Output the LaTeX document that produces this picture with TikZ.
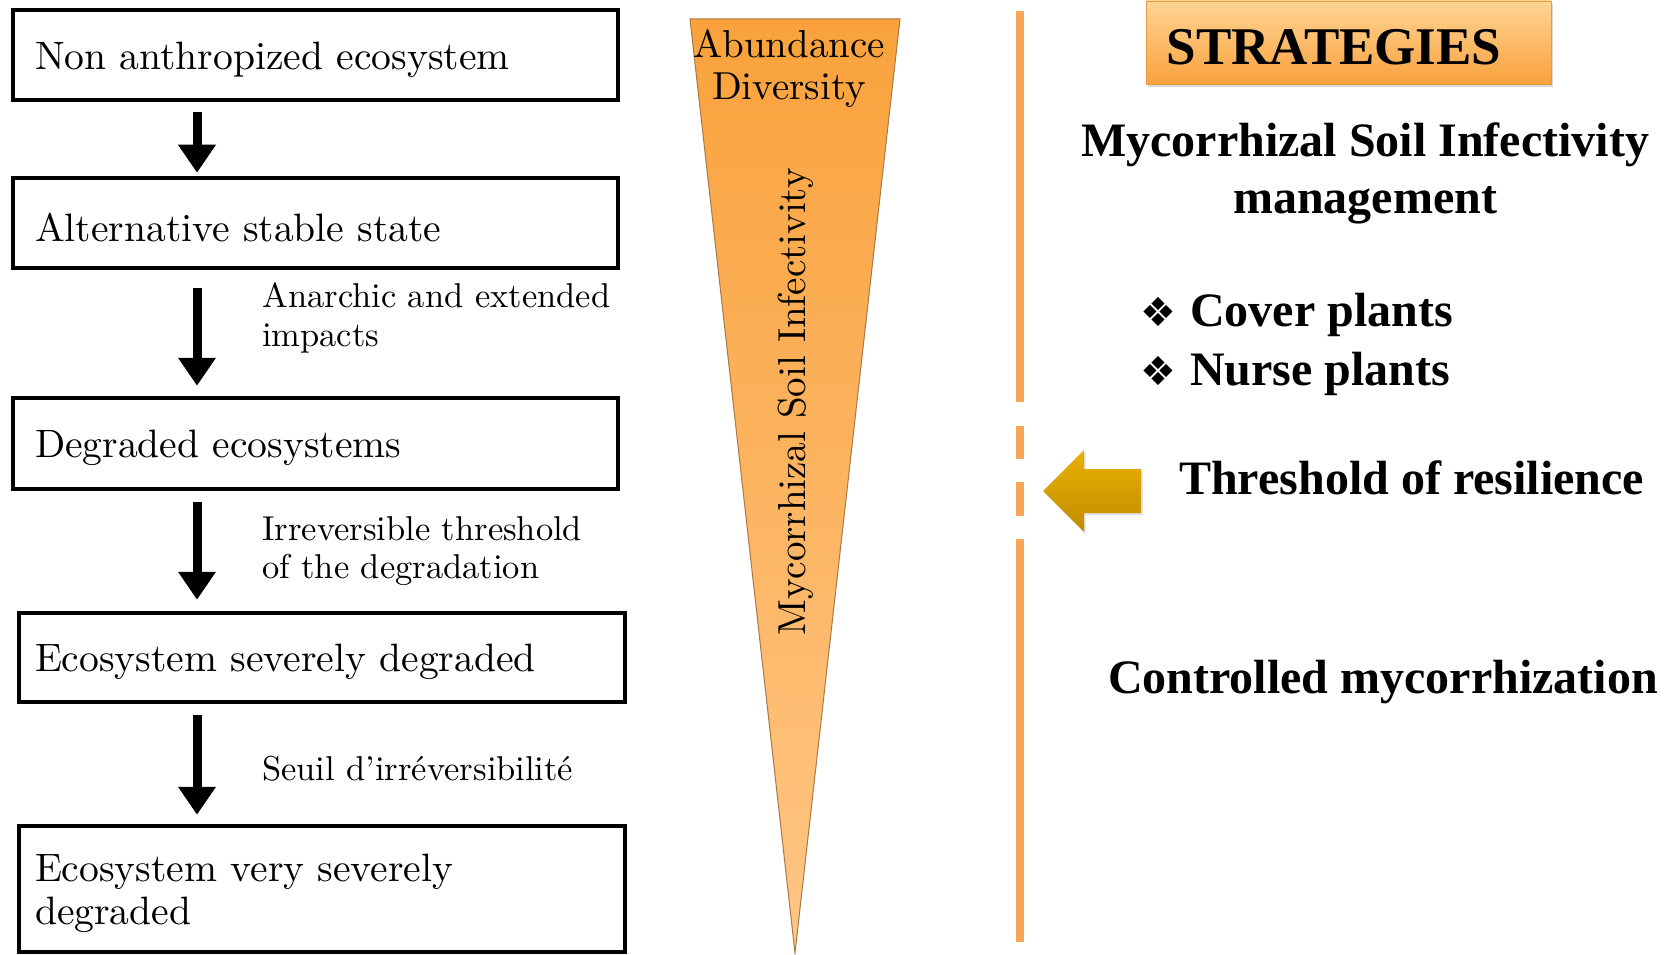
\documentclass[tikz,border=0pt]{standalone}
\usepackage{fontspec}
\setmainfont{lmroman10-regular.otf}
\newfontfamily\tnr{Liberation Serif}
\newfontfamily\djv{DejaVu Sans}
\usetikzlibrary{arrows.meta,shadows}
\definecolor{tri1}{HTML}{F9A23C}
\definecolor{tri2}{HTML}{FFC685}
\definecolor{tridraw}{HTML}{A87A48}
\definecolor{lineor}{HTML}{F8A655}
\definecolor{st1}{HTML}{FFD494}
\definecolor{st2}{HTML}{F8A23E}
\definecolor{strdraw}{HTML}{E59A45}
\definecolor{ar1}{HTML}{EAB100}
\definecolor{ar2}{HTML}{BF8C00}
\newcommand{\upstrut}{\rule{0pt}{37pt}}
\begin{document}
\begin{tikzpicture}[x=1pt,y=-1pt,
  box/.style={draw=black, line width=4.5pt, fill=white, minimum width=605pt, align=left, text width=561pt, inner xsep=22pt, inner ysep=0pt, font=\fontsize{39.6}{43}\selectfont},
  boxb/.style={box, minimum width=606pt, text width=574pt, inner xsep=16pt},
  flow/.style={line width=9pt, -{Triangle[width=36pt,length=28pt]}},
  side/.style={anchor=west, align=left, inner sep=0pt, font=\fontsize{34.5}{38.5}\selectfont},
  strat/.style={inner sep=0pt, font=\tnr\bfseries\fontsize{48}{57}\selectfont},
  vline/.style={draw=lineor, line width=8.5pt}
]
\useasboundingbox (0,0) rectangle (1666,955);
% left column boxes
\node[box, minimum height=90pt] (b1) at (315.5,55) {\upstrut Non anthropized ecosystem};
\node[box, minimum height=90pt] (b2) at (315.5,223) {\upstrut Alternative stable state};
\node[box, minimum height=91pt] (b3) at (315.5,443.5) {\upstrut Degraded ecosystems};
\node[boxb, minimum height=89pt] (b4) at (322,657.5) {\upstrut Ecosystem severely degraded};
\node[boxb, minimum height=126pt] (b5) at (322,889) {\upstrut Ecosystem very severely\\degraded};
\coordinate (ax) at (197,0);
\draw[flow, shorten <=10pt, shorten >=3pt] (b1.south -| ax) -- (b2.north -| ax);
\draw[flow, shorten <=18pt, shorten >=10pt] (b2.south -| ax) -- (b3.north -| ax);
\draw[flow, shorten <=11pt, shorten >=11pt] (b3.south -| ax) -- (b4.north -| ax);
\draw[flow, shorten <=11pt, shorten >=9pt] (b4.south -| ax) -- (b5.north -| ax);
\node[side] (l1) at (262,318) {Anarchic and extended\\impacts};
\node[side] (l2) at (262,551) {Irreversible threshold\\of the degradation};
\node[side] (l3) at (262,769) {Seuil d’irréversibilité};
% triangle
\coordinate (tl) at (690,19);
\coordinate (tr) at (900,19);
\coordinate (tp) at (795,953);
\path[top color=tri1, bottom color=tri2, draw=tridraw, line width=1pt] (tl) -- (tr) -- (tp) -- cycle;
\node[font=\fontsize{39}{42}\selectfont, align=center, inner sep=0pt] (ad) at (789,69) {Abundance\\Diversity};
\node[rotate=90, font=\fontsize{39}{42}\selectfont, inner sep=0pt] (msi) at (796,402) {Mycorrhizal Soil Infectivity};
% vertical line
\draw[vline] (1020,11) -- (1020,402);
\draw[vline] (1020,426) -- (1020,459);
\draw[vline] (1020,482) -- (1020,516);
\draw[vline] (1020,539) -- (1020,942);
% strategies
\node[draw=strdraw, line width=0.8pt, top color=st1, bottom color=st2, minimum width=405pt, minimum height=83pt, drop shadow={opacity=0.3, shadow xshift=2pt, shadow yshift=-3pt}] (sbox) at (1348.5,42.5) {};
\node[font=\tnr\bfseries\fontsize{53}{60}\selectfont, inner sep=0pt] (st) at (1334,47) {STRATEGIES};
\node[strat, align=center] (msim) at (1365,173) {Mycorrhizal Soil Infectivity\\management};
\node[strat, anchor=west] (cp) at (1140,315) {\makebox[50pt][l]{\djv\fontsize{40}{40}\selectfont ❖}Cover plants};
\node[strat, anchor=west] (np) at (1140,374) {\makebox[50pt][l]{\djv\fontsize{40}{40}\selectfont ❖}Nurse plants};
\node[strat, anchor=west] (thr) at (1179,478) {Threshold of resilience};
\node[strat, anchor=west] (cm) at (1108,682) {Controlled mycorrhization};
% yellow arrow
\path[top color=ar1, bottom color=ar2, drop shadow={opacity=0.25, shadow xshift=1.5pt, shadow yshift=-2pt}] (1043,491) -- (1084,450) -- (1084,469) -- (1141,469) -- (1141,513) -- (1084,513) -- (1084,532) -- cycle;
\end{tikzpicture}
\end{document}
